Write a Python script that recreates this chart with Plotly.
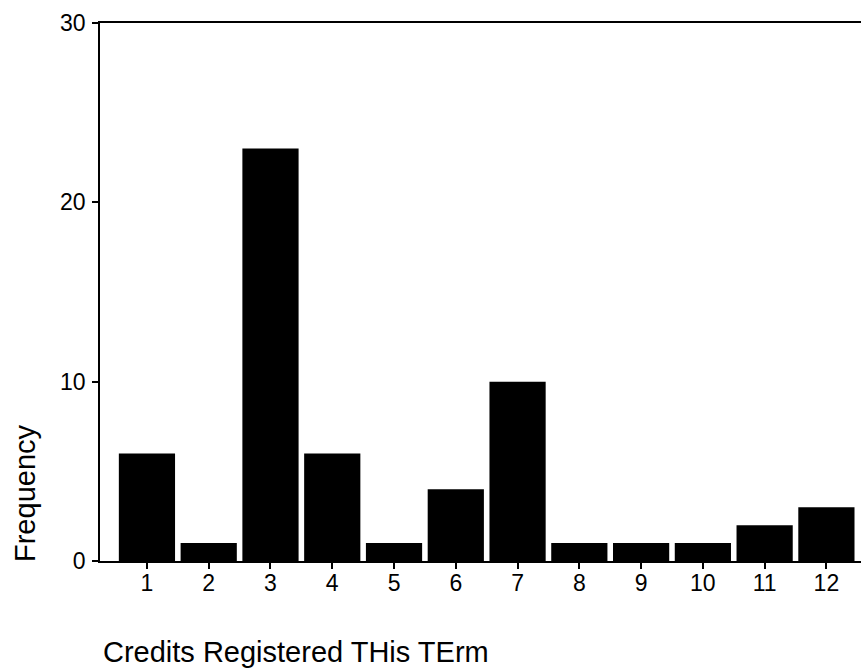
import plotly.graph_objects as go

# ── data ─────────────────────────────────────────────────────────────────────
credits = [1, 2, 3, 4, 5, 6, 7, 8, 9, 10, 11, 12]
frequency = [6, 1, 23, 6, 1, 4, 10, 1, 1, 1, 2, 3]
y_ticks = [0, 10, 20, 30]

FONT = "Liberation Sans, Arial, sans-serif"

fig = go.Figure(go.Bar(
    x=credits, y=frequency, width=0.91,
    marker=dict(color="#000000", line_width=0),
))

fig.update_layout(
    width=861, height=670,
    margin=dict(l=100, r=0, t=23, b=109),
    plot_bgcolor="#ffffff", paper_bgcolor="#ffffff",
    font=dict(family=FONT, size=23, color="#000000"),
    showlegend=False,
    xaxis=dict(
        range=[0.24, 12.56], tickvals=credits, ticktext=[str(c) for c in credits],
        showgrid=False, zeroline=False,
        showline=True, linecolor="#000000", linewidth=1.5, mirror=True,
        ticks="outside", ticklen=6, tickwidth=1.5, tickcolor="#000000",
        tickfont=dict(size=23), ticklabelstandoff=-5,
    ),
    yaxis=dict(
        range=[0, 30], tickvals=y_ticks,
        showgrid=False, zeroline=False,
        showline=True, linecolor="#000000", linewidth=1.5,
        ticks="outside", ticklen=6, tickwidth=1.5, tickcolor="#000000",
        tickfont=dict(size=23), ticklabelstandoff=2,
    ),
    annotations=[
        dict(text="Credits Registered THis TErm", xref="paper", yref="paper",
             x=(101 - 100) / 761, y=-(652 - 561) / 538, xanchor="left", yanchor="middle",
             showarrow=False, font=dict(size=29)),
        dict(text="Frequency", xref="paper", yref="paper", textangle=-90,
             x=-(100 - 25) / 761, y=(561 - 493) / 538, xanchor="center", yanchor="middle",
             showarrow=False, font=dict(size=29)),
    ],
)

fig.write_html(
    "out.html",
    config={"displayModeBar": False},
    post_script="document.body.style.margin='0';document.body.style.overflow='hidden';",
)
